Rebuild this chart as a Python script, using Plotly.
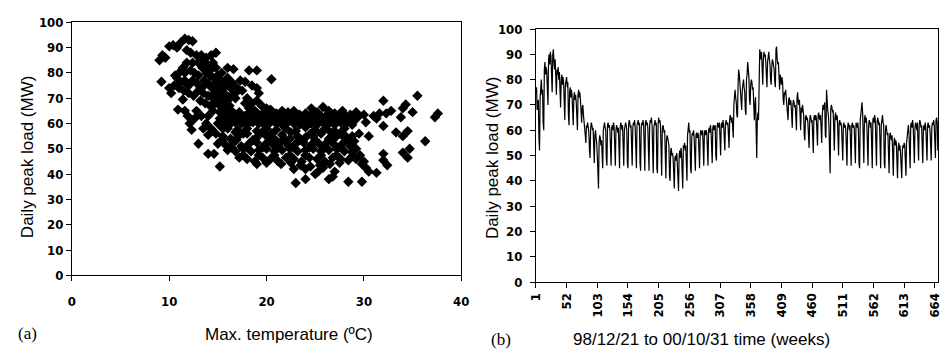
import plotly.graph_objects as go

# ---------------- Panel (a): daily peak load vs max temperature ----------------
cold_high = [(9.0, 85), (9.3, 87), (9.6, 86), (10.0, 90.5), (10.4, 91), (10.8, 90), (11.2, 92), (11.6, 93.5),
             (12.0, 93), (12.4, 92.5), (11.8, 89), (12.2, 88), (12.8, 87), (13.3, 87), (13.8, 86), (14.3, 87),
             (14.8, 88), (13.0, 84), (13.5, 85), (14.0, 83), (14.5, 84), (11.0, 80), (11.4, 82), (11.8, 84),
             (12.2, 81), (12.6, 80), (13.0, 79), (13.4, 82), (13.8, 80), (14.2, 79), (14.6, 78), (15.0, 79),
             (10.8, 78), (11.2, 76), (11.6, 77), (12.0, 75), (12.4, 77), (12.8, 76), (13.2, 74), (13.6, 75),
             (14.0, 76), (14.4, 74), (14.8, 73), (15.2, 74), (15.6, 72), (11.0, 74), (11.5, 73), (12.0, 72),
             (12.5, 71), (13.0, 73), (13.5, 72), (14.0, 71), (14.5, 70), (15.0, 71), (15.5, 70), (16.0, 69),
             (16.4, 71), (16.8, 70), (13.2, 69), (13.7, 68), (14.2, 67), (14.7, 68), (15.2, 67), (15.7, 66),
             (16.2, 67)]
cold_blob = [(14.8, 76), (15.3, 77), (15.8, 75), (16.3, 74), (15.0, 69), (15.5, 68), (16.0, 65), (16.6, 64),
             (14.5, 65), (14.0, 63), (15.2, 64.5), (13.6, 77), (14.2, 81), (14.8, 82), (15.4, 80), (12.4, 84),
             (11.6, 80), (10.6, 79), (10.5, 75), (15.9, 71), (15.4, 73), (14.6, 72), (15.0, 75)]
cold_sparse = [(9.2, 76.5), (10.0, 74), (10.2, 72), (10.9, 65.5), (11.4, 69.5), (11.6, 65), (11.9, 63),
               (12.1, 60), (12.3, 57.5), (12.6, 62), (13.0, 52), (14.0, 48), (14.6, 48), (15.2, 43),
               (12.8, 65), (13.3, 63), (13.8, 60), (14.3, 58), (14.8, 56), (13.5, 58), (14.0, 55.5),
               (15.0, 60), (15.5, 58)]
mild_high = [(16.0, 82), (16.6, 81.5), (17.3, 77), (17.8, 76.5), (18.2, 81), (19.0, 81), (20.5, 77.5),
             (19.0, 74), (19.2, 72), (18.5, 75), (17.0, 74), (16.5, 76), (16.0, 78), (17.5, 73), (18.0, 70),
             (18.5, 68), (19.0, 69), (16.8, 72), (17.8, 68), (19.5, 67), (20.0, 66), (18.2, 66)]
band_64 = [(15.6, 64), (16.4, 65), (17.2, 64.5), (18.0, 63.5), (18.8, 65), (19.6, 64), (20.4, 65.5), (21.0, 64),
           (21.6, 65), (22.2, 64.5), (22.8, 65), (23.4, 63.5), (24.0, 64), (24.6, 66), (25.2, 64.5),
           (25.8, 66.5), (26.4, 65), (27.0, 64), (27.8, 65), (28.6, 63.5), (29.2, 64.5)]
band_63 = [(15.9, 63), (16.8, 63.5), (17.8, 63), (18.5, 63.5), (19.3, 63), (20.1, 63.5), (20.9, 63), (21.5, 63),
           (22.6, 63.5), (23.2, 63), (24.4, 63), (25.0, 63.5), (25.6, 63), (26.2, 63.5), (27.4, 63), (28.0, 63.5)]
band_62 = [(15.2, 62), (15.8, 61.5), (16.4, 62.5), (17.0, 62), (17.6, 61), (18.2, 62.5), (18.8, 62), (19.4, 61.5),
           (20.0, 62.5), (20.6, 62), (21.2, 61.5), (21.8, 62.5), (22.4, 62), (23.0, 61.5), (23.6, 62.5),
           (24.2, 62), (24.8, 61.5), (25.4, 62.5), (26.0, 62), (26.6, 61.5), (27.2, 62.5), (27.8, 62),
           (28.4, 61.5), (29.0, 62)]
band_61 = [(15.4, 61), (16.1, 61), (17.3, 61), (18.4, 61), (19.0, 61), (19.7, 61), (20.8, 61), (21.5, 61),
           (22.6, 61), (23.3, 61), (23.9, 61), (24.5, 61), (25.6, 61), (26.3, 61), (26.9, 61), (27.5, 61),
           (28.7, 61)]
band_60 = [(15.6, 60), (16.2, 59.5), (16.8, 60.5), (17.4, 60), (18.0, 59.5), (18.6, 60.5), (19.2, 60), (19.8, 59.5),
           (20.4, 60.5), (21.0, 60), (21.6, 59.5), (22.2, 60.5), (22.8, 60), (23.4, 59.5), (24.0, 60.5),
           (24.6, 60), (25.2, 59.5), (25.8, 60.5), (26.4, 60), (27.0, 59.5), (27.6, 60.5), (28.2, 60),
           (28.8, 59.5)]
band_58 = [(16.0, 58), (17.0, 57.5), (18.0, 58), (19.0, 57), (20.0, 58), (21.0, 57.5), (22.0, 58), (23.0, 57),
           (24.0, 58.5), (25.0, 57.5), (26.0, 58), (27.0, 57), (28.0, 58)]
band_56 = [(16.8, 56.5), (17.6, 56), (19.5, 56.5), (20.5, 56), (22.5, 56.5), (24.5, 56), (26.6, 56.5), (27.5, 56)]
band_55 = [(15.5, 55), (16.3, 54), (17.1, 55), (18.0, 56), (19.0, 54.5), (20.0, 55), (20.8, 54), (21.6, 55.5),
           (22.4, 54), (23.2, 55), (24.0, 54.5), (24.8, 55), (25.6, 56), (26.4, 54), (27.2, 55), (28.0, 54.5),
           (28.8, 55), (29.5, 56)]
band_53 = [(15.4, 53.5), (16.9, 53.5), (18.6, 53.5), (20.3, 53.5), (21.9, 53.5), (23.5, 53.5), (25.0, 53.5),
           (26.8, 53.5), (28.4, 53.5)]
band_52 = [(15.0, 52), (15.8, 51.5), (16.6, 52.5), (17.4, 51), (18.2, 52), (19.0, 52.5), (19.8, 51.5), (20.6, 52),
           (21.4, 52.5), (22.2, 51.5), (23.0, 52), (23.8, 52.5), (24.6, 51.5), (25.4, 52), (26.2, 52.5),
           (27.0, 51.5), (27.8, 52), (28.6, 51)]
band_50 = [(16.4, 50.5), (18.0, 50.5), (19.6, 50.5), (21.2, 50.5), (22.8, 50.5), (24.4, 50.5), (26.0, 50.5),
           (27.6, 50.5), (29.2, 50)]
band_49 = [(16.0, 49.5), (16.8, 49), (17.6, 50), (18.4, 49), (19.2, 49.5), (20.0, 50), (20.8, 49), (21.6, 49.5),
           (22.4, 50), (23.2, 49), (24.0, 49.5), (24.8, 50), (25.6, 49), (26.4, 49.5), (27.2, 50), (28.0, 49),
           (28.8, 48.5), (29.6, 47.5)]
band_47 = [(17.6, 47.5), (19.2, 47.5), (20.8, 47.5), (22.4, 47.5), (24.0, 47.5), (25.6, 47.5), (27.2, 47.5),
           (28.8, 47)]
band_46 = [(17.2, 46.5), (18.0, 46), (18.8, 45), (19.6, 46.5), (20.4, 46), (21.2, 45), (22.0, 46.5), (22.8, 46),
           (23.6, 45), (24.4, 46.5), (25.2, 46), (26.0, 45), (26.8, 46.5), (27.6, 46), (28.4, 45.5), (29.2, 46),
           (30.0, 45)]
band_44 = [(19.0, 44), (20.0, 44.5), (21.5, 44), (22.5, 44.5), (23.5, 43.5), (24.5, 43), (25.5, 43.5), (26.5, 44),
           (27.5, 44.5), (29.8, 44), (30.2, 42.5)]
warm_lows = [(23.0, 36.5), (24.0, 38), (25.0, 40), (25.3, 41), (26.4, 38), (26.8, 39), (27.0, 41), (28.4, 37),
             (29.8, 37), (30.5, 41), (31.3, 40.5), (24.0, 42), (22.8, 42), (25.8, 42.5)]
hot_sparse = [(30.0, 63.5), (30.5, 55), (31.0, 63), (31.3, 62), (31.6, 64), (32.0, 69), (32.0, 59), (32.0, 48),
              (32.0, 45.5), (32.4, 43.5), (32.3, 64), (32.8, 65), (33.3, 56.5), (33.8, 62.5), (34.0, 66),
              (34.3, 67.5), (34.0, 55), (34.0, 48.5), (34.5, 57), (34.5, 46.5), (34.7, 50), (35.0, 64.5),
              (35.5, 71), (36.3, 53), (37.3, 62.5), (37.6, 64), (29.0, 61), (29.5, 63), (30.2, 60.5),
              (28.2, 54), (29.0, 53), (28.0, 55.5)]

scatter_points = (cold_high + cold_blob + cold_sparse + mild_high + band_64 + band_63 + band_62 + band_61 +
                  band_60 + band_58 + band_56 + band_55 + band_53 + band_52 + band_50 + band_49 + band_47 +
                  band_46 + band_44 + warm_lows + hot_sparse)
temp_c = [p[0] for p in scatter_points]
load_a = [p[1] for p in scatter_points]

# ---------------- Panel (b): daily peak load time series ----------------
daily_peak_load = [
    75, 77, 68, 70, 72, 57, 52,
    73, 77, 80, 74, 76, 63, 60,
    84, 87, 82, 85, 83, 72, 70,
    88, 90, 86, 91, 89, 78, 75,
    90, 92, 87, 84, 88, 77, 74,
    84, 82, 85, 80, 83, 73, 69,
    80, 82, 78, 81, 79, 68, 64,
    78, 80, 81, 77, 79, 66, 62,
    75, 77, 73, 76, 74, 65, 62,
    73, 75, 72, 74, 71, 63, 60,
    74, 76, 73, 75, 72, 66, 63,
    69, 70, 66, 64, 62, 58, 55,
    62, 61, 63, 60, 59, 52, 49,
    61, 63, 62, 60, 61, 50, 47,
    58, 60, 57, 55, 50, 42, 37,
    55, 58, 57, 54, 56, 48, 45,
    60, 62, 63, 61, 60, 49, 46,
    62, 63, 61, 62, 60, 48, 46,
    61, 62, 60, 63, 61, 48, 46,
    60, 62, 61, 59, 61, 47, 45,
    61, 63, 62, 60, 62, 48, 46,
    60, 61, 63, 62, 60, 47, 45,
    62, 64, 63, 61, 62, 48, 46,
    61, 63, 62, 64, 61, 47, 45,
    62, 63, 64, 62, 63, 47, 44,
    61, 63, 62, 64, 62, 46, 44,
    63, 64, 62, 63, 61, 46, 44,
    62, 64, 63, 65, 62, 46, 43,
    61, 63, 64, 62, 63, 45, 43,
    62, 65, 63, 64, 62, 44, 42,
    60, 62, 61, 59, 60, 43, 41,
    56, 58, 57, 55, 54, 42, 40,
    52, 53, 50, 51, 49, 39, 37,
    49, 50, 48, 51, 47, 37, 36,
    50, 52, 49, 53, 51, 38, 37,
    54, 53, 55, 52, 54, 42, 40,
    58, 61, 63, 59, 60, 45, 43,
    57, 59, 58, 60, 57, 46, 44,
    58, 59, 57, 59, 58, 47, 45,
    58, 60, 59, 58, 60, 47, 46,
    59, 60, 58, 60, 59, 48, 46,
    60, 61, 59, 62, 60, 49, 47,
    61, 62, 60, 61, 62, 50, 48,
    61, 63, 62, 61, 63, 52, 50,
    62, 63, 61, 64, 62, 54, 52,
    62, 64, 63, 62, 63, 56, 53,
    64, 66, 65, 63, 65, 59, 57,
    70, 74, 76, 73, 71, 66, 65,
    78, 84, 82, 79, 76, 70, 68,
    76, 78, 80, 77, 75, 68, 66,
    80, 82, 87, 84, 81, 72, 70,
    78, 80, 79, 76, 77, 68, 64,
    70, 73, 60, 49, 65, 67, 64,
    86, 92, 90, 88, 91, 80, 78,
    88, 91, 89, 90, 87, 79, 77,
    87, 90, 91, 88, 86, 80, 78,
    85, 88, 87, 86, 84, 79, 77,
    92, 93, 88, 86, 87, 78, 76,
    82, 80, 78, 81, 79, 72, 70,
    75, 74, 76, 73, 72, 66, 64,
    72, 73, 70, 72, 71, 63, 61,
    70, 72, 71, 69, 70, 62, 60,
    73, 75, 71, 70, 72, 62, 60,
    69, 67, 70, 68, 66, 58, 56,
    65, 66, 64, 65, 63, 55, 53,
    64, 66, 65, 63, 64, 53, 51,
    65, 66, 64, 66, 65, 56, 54,
    66, 67, 65, 64, 66, 57, 55,
    66, 70, 68, 69, 71, 58, 57,
    76, 70, 68, 66, 62, 52, 43,
    68, 70, 69, 67, 68, 54, 52,
    65, 67, 64, 66, 65, 52, 50,
    63, 64, 62, 63, 61, 50, 48,
    62, 63, 61, 62, 60, 48, 46,
    61, 63, 62, 60, 62, 48, 46,
    62, 63, 61, 62, 61, 48, 47,
    63, 62, 61, 63, 60, 47, 45,
    64, 66, 68, 71, 67, 49, 47,
    64, 66, 63, 65, 62, 47, 46,
    62, 64, 63, 61, 63, 47, 45,
    64, 65, 63, 66, 64, 47, 46,
    63, 65, 64, 62, 63, 47, 45,
    62, 64, 66, 63, 62, 47, 45,
    60, 62, 60, 58, 59, 45, 43,
    58, 59, 57, 56, 58, 44, 42,
    55, 57, 54, 56, 55, 43, 41,
    53, 55, 52, 54, 51, 42, 41,
    52, 54, 53, 55, 54, 44, 42,
    55, 58, 60, 62, 59, 47, 45,
    62, 63, 61, 64, 62, 49, 47,
    61, 63, 62, 60, 63, 49, 48,
    62, 64, 63, 61, 62, 49, 47,
    61, 62, 60, 63, 61, 49, 48,
    62, 63, 61, 62, 60, 50, 48,
    61, 63, 62, 64, 62, 50, 49,
    64, 65, 63, 52,
]
day_index = list(range(1, len(daily_peak_load) + 1))
day_ticks = [1, 52, 103, 154, 205, 256, 307, 358, 409, 460, 511, 562, 613, 664]

# ---------------- Figure ----------------
W, H = 947, 359
tick_font = dict(family="Liberation Sans Narrow, DejaVu Sans Condensed, Arial Narrow, sans-serif",
                 size=13, color="black", weight="bold")
title_font = dict(family="Liberation Sans, Arial, sans-serif", size=17, color="black")
label_font = dict(family="Liberation Serif, Times New Roman, serif", size=17, color="black")

axis_common = dict(showgrid=False, zeroline=False, showline=True, linecolor="black", linewidth=1,
                   mirror=True, ticks="outside", ticklen=5, tickwidth=1, tickcolor="black",
                   tickfont=tick_font)

fig = go.Figure()
fig.add_trace(go.Scatter(x=temp_c, y=load_a, mode="markers", xaxis="x", yaxis="y",
                         marker=dict(symbol="diamond", size=8, color="black", line=dict(width=0))))
fig.add_trace(go.Scatter(x=day_index, y=daily_peak_load, mode="lines", xaxis="x2", yaxis="y2",
                         line=dict(color="black", width=1.2)))

fig.update_layout(
    width=W, height=H, margin=dict(l=0, r=0, t=0, b=0),
    paper_bgcolor="white", plot_bgcolor="white", showlegend=False,
    xaxis=dict(domain=[65 / W, 461 / W], range=[0, 40], dtick=10, anchor="y",
               ticklabelstandoff=9, **axis_common),
    yaxis=dict(domain=[1 - 280 / H, 1 - 16 / H], range=[0, 100], dtick=10, anchor="x", **axis_common),
    xaxis2=dict(domain=[537 / W, 946 / W], range=[1, 669.3], tickmode="array", tickvals=day_ticks,
                ticktext=[str(t) for t in day_ticks], tickangle=-90, anchor="y2", **axis_common),
    yaxis2=dict(domain=[1 - 287 / H, 1 - 23 / H], range=[0, 100], dtick=10, anchor="x2",
                ticklabelstandoff=5, **axis_common),
)

annotations = [
    dict(text="Daily peak load (MW)", x=20 / W, y=1 - 156 / H, textangle=-90, font=title_font),
    dict(text="Daily peak load (MW)", x=493 / W, y=1 - 157 / H, textangle=-90, font=title_font),
    dict(text="Max. temperature (ºC)", x=285.5 / W, y=1 - 342 / H, font=title_font),
    dict(text="98/12/21 to 00/10/31 time (weeks)", x=705 / W, y=1 - 347 / H, font=title_font),
    dict(text="(a)", x=20 / W, y=1 - 341 / H, font=label_font),
    dict(text="(b)", x=501 / W, y=1 - 347 / H, font=label_font),
]
for a in annotations:
    fig.add_annotation(xref="paper", yref="paper", xanchor="center", yanchor="middle",
                       showarrow=False, **a)

fig.write_html("out.html")
